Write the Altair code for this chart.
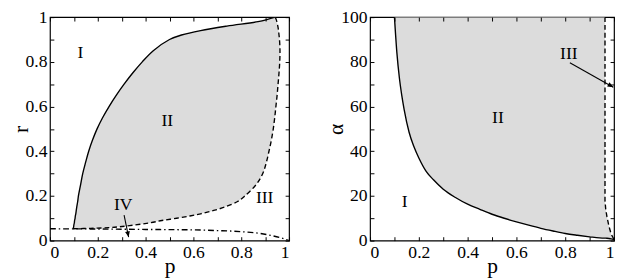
import math
import altair as alt
import pandas as pd

# ---------------- data ----------------
r_grid = [0.053, 0.055, 0.058, 0.062, 0.07, 0.08, 0.09, 0.1, 0.11, 0.12, 0.135, 0.15,
          0.175, 0.2, 0.25, 0.3, 0.35, 0.4, 0.45, 0.5, 0.55, 0.6, 0.65, 0.7, 0.75,
          0.8, 0.85, 0.9, 0.92, 0.94, 0.96, 0.98, 0.99, 1.0]
p_solid_left = [0.097, 0.098, 0.098, 0.099, 0.100, 0.102, 0.103, 0.105, 0.106, 0.108,
                0.110, 0.112, 0.116, 0.119, 0.128, 0.137, 0.149, 0.162, 0.178, 0.197,
                0.220, 0.247, 0.277, 0.310, 0.346, 0.386, 0.432, 0.500, 0.550, 0.630,
                0.740, 0.870, 0.910, 0.942]
p_dashed_left = [0.097, 0.170, 0.245, 0.290, 0.355, 0.420, 0.468, 0.530, 0.585, 0.630,
                 0.685, 0.730, 0.785, 0.815, 0.862, 0.890, 0.905, 0.916, 0.926, 0.934,
                 0.940, 0.945, 0.950, 0.954, 0.958, 0.961, 0.962, 0.960, 0.958, 0.956,
                 0.953, 0.949, 0.946, 0.942]
p_dashdot = [0.0, 0.2, 0.4, 0.6, 0.7, 0.8, 0.88, 0.93, 0.97, 1.0]
r_dashdot = [0.053, 0.052, 0.050, 0.048, 0.045, 0.040, 0.032, 0.022, 0.011, 0.0]

p_grid = [0.1, 0.11, 0.12, 0.13, 0.14, 0.16, 0.18, 0.2, 0.23, 0.26, 0.3, 0.35, 0.4,
          0.45, 0.5, 0.55, 0.6, 0.65, 0.7, 0.75, 0.8, 0.85, 0.9, 0.94, 0.963, 0.9631,
          0.966, 0.971, 0.979, 0.988, 1.0]
alpha_solid = [100, 84, 73, 65, 58.5, 48.5, 42, 37, 31, 27.2, 23, 19.3, 16.3, 14.0,
               11.8, 10.0, 8.4, 6.9, 5.5, 4.3, 3.2, 2.4, 1.7, 1.2, 1.12, 1.12, 1.1,
               1.05, 0.95, 0.8, 0.5]
alpha_upper = [100] * 25 + [18, 14, 10.7, 6.5, 3.0, 0.5]
p_dashed_right = [0.963, 0.963, 0.966, 0.971, 0.979, 0.988, 1.0]
alpha_dashed_right = [100, 18, 14, 10.7, 6.5, 3.0, 0.5]

lab_left = ["I", "II", "III", "IV"]
lab_left_p = [0.127, 0.491, 0.898, 0.306]
lab_left_r = [0.838, 0.536, 0.191, 0.158]
lab_right = ["I", "II", "III"]
lab_right_p = [0.142, 0.524, 0.815]
lab_right_a = [17.4, 54.6, 83.5]

arrow_left = dict(p=[0.31], r=[0.114], p2=[0.329], r2=[0.016])
arrow_right = dict(p=[0.819], a=[79.6], p2=[0.997], a2=[68.6])

p_ticks = [i / 10 for i in range(11)]
a_ticks = list(range(0, 101, 10))

# ---------------- layout / style ----------------
W1, W2, H = 245, 250, 229
FONT = "Liberation Serif"
FILL = "#dcdcdc"
LW = 1.4
TK = 4
ARROW_PATH = "M0,0L-1,-0.42L-1,0.42Z"
EXPR_UNIT = "round(datum.value*10)%2==0 ? datum.label : ''"
EXPR_ALPHA = "round(datum.value)%20==0 ? datum.label : ''"


def axis(values, title, orient, fmt, expr, span, tpad):
    # labels outside; inward ticks at both ends of each (dashed) grid line
    return alt.Axis(values=values, format=fmt, labelExpr=expr, ticks=False, domain=False,
                    grid=True, gridColor="black", gridOpacity=1, gridWidth=1,
                    gridDash=[TK, span - 2 * TK, TK, 2000], zindex=1,
                    title=title, orient=orient, titlePadding=tpad,
                    labelFont=FONT, labelFontSize=18, labelColor="black", labelPadding=3,
                    titleFont=FONT, titleFontSize=22, titleFontWeight="normal",
                    titleColor="black")


xsc = alt.Scale(domain=[0, 1], nice=False, zero=False)

# ---------- left panel ----------
ysc_l = alt.Scale(domain=[0, 1], nice=False, zero=False)
AX_PL = axis(p_ticks, "p", "bottom", "~g", EXPR_UNIT, H, -5)
AX_R = axis(p_ticks, "r", "left", "~g", EXPR_UNIT, W1, -7)


def XL(f):
    return alt.X(f, scale=xsc, axis=AX_PL)


def YL(f):
    return alt.Y(f, scale=ysc_l, axis=AX_R)


dl = pd.DataFrame({"r": r_grid, "ps": p_solid_left, "pd": p_dashed_left})
ddd = pd.DataFrame({"p": p_dashdot, "r": r_dashdot})

area_l = alt.Chart(dl).mark_area(orient="horizontal", interpolate="catmull-rom",
                                 color=FILL, clip=True).encode(
    y=YL("r:Q"), x=XL("ps:Q"), x2="pd:Q")
solid_l = alt.Chart(dl).mark_line(interpolate="catmull-rom", color="black",
                                  strokeWidth=LW, clip=True).encode(
    x=XL("ps:Q"), y=YL("r:Q"), order="r:Q")
dashed_l = alt.Chart(dl).mark_line(interpolate="catmull-rom", color="black",
                                   strokeWidth=LW, strokeDash=[5, 3], clip=True).encode(
    x=XL("pd:Q"), y=YL("r:Q"), order="r:Q")
dashdot_l = alt.Chart(ddd).mark_line(interpolate="monotone", color="black",
                                     strokeWidth=LW, strokeDash=[6, 3, 1.5, 3],
                                     clip=True).encode(x=XL("p:Q"), y=YL("r:Q"))
txt_l = alt.Chart(pd.DataFrame({"t": lab_left, "p": lab_left_p, "r": lab_left_r})).mark_text(
    font=FONT, fontSize=18, color="black", baseline="middle").encode(
    x=XL("p:Q"), y=YL("r:Q"), text="t:N")
al = pd.DataFrame(arrow_left)
rule_l = alt.Chart(al).mark_rule(color="black", strokeWidth=1.1).encode(
    x=XL("p:Q"), y=YL("r:Q"), x2="p2:Q", y2="r2:Q")
ang_l = math.degrees(math.atan2((arrow_left["r"][0] - arrow_left["r2"][0]) * H,
                                (arrow_left["p2"][0] - arrow_left["p"][0]) * W1))
head_l = alt.Chart(al).mark_point(shape=ARROW_PATH, filled=True, color="black", size=140,
                                  opacity=1, angle=ang_l).encode(
    x=XL("p2:Q"), y=YL("r2:Q"))

left = alt.layer(area_l, solid_l, dashed_l, dashdot_l, txt_l, rule_l, head_l).properties(
    width=W1, height=H)

# ---------- right panel ----------
ysc_r = alt.Scale(domain=[0, 100], nice=False, zero=False)
AX_PR = axis(p_ticks, "p", "bottom", "~g", EXPR_UNIT, H, -5)
AX_A = axis(a_ticks, "α", "left", "d", EXPR_ALPHA, W2, -7)


def XR(f):
    return alt.X(f, scale=xsc, axis=AX_PR)


def YR(f):
    return alt.Y(f, scale=ysc_r, axis=AX_A)


dr = pd.DataFrame({"p": p_grid, "as": alpha_solid, "au": alpha_upper})
ddr = pd.DataFrame({"p": p_dashed_right, "a": alpha_dashed_right,
                    "i": list(range(len(p_dashed_right)))})

area_r = alt.Chart(dr).mark_area(interpolate="monotone", color=FILL, clip=True).encode(
    x=XR("p:Q"), y=YR("as:Q"), y2="au:Q")
solid_r = alt.Chart(dr).mark_line(interpolate="monotone", color="black",
                                  strokeWidth=LW, clip=True).encode(x=XR("p:Q"), y=YR("as:Q"))
dashed_r = alt.Chart(ddr).mark_line(interpolate="linear", color="black",
                                    strokeWidth=LW, strokeDash=[5, 3], clip=True).encode(
    x=XR("p:Q"), y=YR("a:Q"), order="i:Q")
txt_r = alt.Chart(pd.DataFrame({"t": lab_right, "p": lab_right_p, "a": lab_right_a})).mark_text(
    font=FONT, fontSize=18, color="black", baseline="middle").encode(
    x=XR("p:Q"), y=YR("a:Q"), text="t:N")
ar = pd.DataFrame(arrow_right)
rule_r = alt.Chart(ar).mark_rule(color="black", strokeWidth=1.1).encode(
    x=XR("p:Q"), y=YR("a:Q"), x2="p2:Q", y2="a2:Q")
ang_r = math.degrees(math.atan2((arrow_right["a"][0] - arrow_right["a2"][0]) / 100 * H,
                                (arrow_right["p2"][0] - arrow_right["p"][0]) * W2))
head_r = alt.Chart(ar).mark_point(shape=ARROW_PATH, filled=True, color="black", size=140,
                                  opacity=1, angle=ang_r).encode(
    x=XR("p2:Q"), y=YR("a2:Q"))

right = alt.layer(area_r, solid_r, dashed_r, txt_r, rule_r, head_r).properties(
    width=W2, height=H)

chart = alt.hconcat(left, right, spacing=35).properties(
    padding={"left": 0, "top": -4, "right": 0, "bottom": 0},
    background="white").configure_view(stroke="black", strokeWidth=1.2)

chart.save("out.html", embed_options={"renderer": "svg", "actions": False})
